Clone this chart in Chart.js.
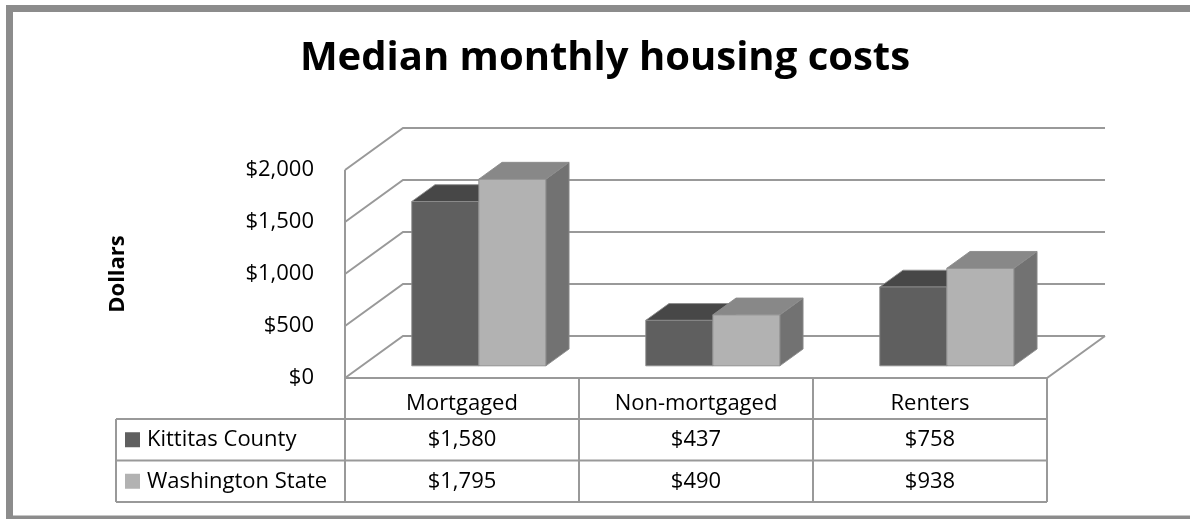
<!DOCTYPE html>
<html>
<head>
<meta charset="utf-8">
<script src="https://cdn.jsdelivr.net/npm/chart.js@4/dist/chart.umd.min.js"></script>
<style>
  html, body { margin: 0; padding: 0; background: #fff; }
  #wrap { width: 1190px; height: 519px; position: relative; }
</style>
</head>
<body>
<div id="wrap"><canvas id="chart"></canvas></div>
<script>
// values
var categories = ["Mortgaged", "Non-mortgaged", "Renters"];
var seriesNames = ["Kittitas County", "Washington State"];
var kittitas = [1580, 437, 758];
var washington = [1795, 490, 938];
var yMax = 2000;
var yStep = 500;
var chartTitle = "Median monthly housing costs";

var FONT = "'Open Sans', 'DejaVu Sans', sans-serif";
var LINE = "#999999";

// 3d look
var depthX = 58, depthY = -42;
var barFront = 0.29, barBack = 0.69;
var faceColors = [
  { front: "#5f5f5f", top: "#474747", side: "#4f4f4f" },
  { front: "#b2b2b2", top: "#888888", side: "#727272" }
];

function money(v) {
  return "$" + Number(v).toLocaleString("en-US");
}

function poly(ctx, pts, fill) {
  ctx.beginPath();
  ctx.moveTo(pts[0][0], pts[0][1]);
  for (var i = 1; i < pts.length; i++) ctx.lineTo(pts[i][0], pts[i][1]);
  ctx.closePath();
  ctx.fillStyle = fill;
  ctx.fill();
  ctx.strokeStyle = "rgba(140,140,140,0.9)";
  ctx.lineWidth = 1;
  ctx.stroke();
}

var frame3d = {
  id: "frame3d",
  beforeDraw: function(chart) {
    var ctx = chart.ctx;
    ctx.save();
    ctx.strokeStyle = "#8c8c8c";
    ctx.lineWidth = 7;
    ctx.strokeRect(9.5, 8.5, 1200, 510.5);
    // title, centred on the whole frame
    ctx.fillStyle = "#000";
    ctx.font = "bold 40px " + FONT;
    ctx.textAlign = "center";
    ctx.textBaseline = "middle";
    ctx.fillText(chartTitle, 605, 59);
    ctx.restore();
  },
  beforeDatasetsDraw: function(chart) {
    var ctx = chart.ctx;
    var a = chart.chartArea;
    var y = chart.scales.y;
    ctx.save();
    ctx.strokeStyle = LINE;
    ctx.lineWidth = 2;
    // back wall + side wall grid
    for (var v = 0; v <= yMax; v += yStep) {
      var py = y.getPixelForValue(v);
      ctx.beginPath();
      ctx.moveTo(a.left, py);
      ctx.lineTo(a.left + depthX, py + depthY);
      ctx.lineTo(a.right + depthX, py + depthY);
      ctx.stroke();
    }
    // left wall front edge
    ctx.beginPath();
    ctx.moveTo(a.left, y.getPixelForValue(yMax));
    ctx.lineTo(a.left, a.bottom);
    ctx.stroke();
    // floor
    ctx.beginPath();
    ctx.moveTo(a.left, a.bottom);
    ctx.lineTo(a.right, a.bottom);
    ctx.lineTo(a.right + depthX, a.bottom + depthY);
    ctx.stroke();

    // bars
    var metas = chart.data.datasets.map(function(d, i) { return chart.getDatasetMeta(i); });
    for (var j = 0; j < categories.length; j++) {
      for (var i = 0; i < metas.length; i++) {
        var bar = metas[i].data[j];
        var c = faceColors[i];
        var fx = depthX * barFront, fy = depthY * barFront;
        var dx = depthX * (barBack - barFront), dy = depthY * (barBack - barFront);
        var x1 = bar.x - bar.width / 2 + fx, x2 = bar.x + bar.width / 2 + fx;
        var yt = bar.y + fy, yb = bar.base + fy;
        poly(ctx, [[x2, yt], [x2 + dx, yt + dy], [x2 + dx, yb + dy], [x2, yb]], c.side);
        poly(ctx, [[x1, yt], [x1 + dx, yt + dy], [x2 + dx, yt + dy], [x2, yt]], c.top);
        poly(ctx, [[x1, yt], [x2, yt], [x2, yb], [x1, yb]], c.front);
      }
    }
    ctx.restore();
    return false;
  },
  afterDraw: function(chart) {
    var ctx = chart.ctx;
    var a = chart.chartArea;
    var x = chart.scales.x;
    var headH = 41, rowH = 41.5;
    var tableLeft = 116;
    var r1 = a.bottom + headH;
    var bottom = r1 + rowH * 2;
    var colW = (a.right - a.left) / categories.length;
    ctx.save();
    ctx.strokeStyle = LINE;
    ctx.lineWidth = 2;
    // horizontal rules
    for (var k = 0; k <= 2; k++) {
      ctx.beginPath();
      ctx.moveTo(tableLeft, r1 + rowH * k);
      ctx.lineTo(a.right, r1 + rowH * k);
      ctx.stroke();
    }
    // verticals
    ctx.beginPath();
    ctx.moveTo(tableLeft, r1);
    ctx.lineTo(tableLeft, bottom);
    ctx.stroke();
    for (var c = 0; c <= categories.length; c++) {
      ctx.beginPath();
      ctx.moveTo(a.left + colW * c, a.bottom);
      ctx.lineTo(a.left + colW * c, bottom);
      ctx.stroke();
    }
    // rows
    var rows = [kittitas, washington];
    ctx.font = "22px " + FONT;
    ctx.textBaseline = "middle";
    for (var r = 0; r < rows.length; r++) {
      var cy = r1 + rowH * r + rowH / 2;
      ctx.fillStyle = faceColors[r].front;
      ctx.fillRect(125, cy - 7.5, 15, 15);
      ctx.fillStyle = "#000";
      ctx.textAlign = "left";
      ctx.fillText(seriesNames[r], 147, cy);
      ctx.textAlign = "center";
      for (var j = 0; j < categories.length; j++) {
        ctx.fillText(money(rows[r][j]), x.getPixelForValue(j), cy);
      }
    }
    ctx.restore();
  }
};

new Chart(document.getElementById("chart"), {
  type: "bar",
  data: {
    labels: categories,
    datasets: [
      { label: seriesNames[0], data: kittitas, backgroundColor: faceColors[0].front },
      { label: seriesNames[1], data: washington, backgroundColor: faceColors[1].front }
    ]
  },
  options: {
    responsive: true,
    maintainAspectRatio: false,
    animation: false,
    layout: { padding: { left: 20, right: 143, top: 170, bottom: 0 } },
    datasets: { bar: { categoryPercentage: 0.573, barPercentage: 1.0 } },
    plugins: {
      legend: { display: false },
      tooltip: { enabled: false },
      title: { display: false }
    },
    scales: {
      x: {
        grid: { display: false, drawTicks: false },
        border: { display: false },
        ticks: { color: "#000", font: { family: FONT, size: 22 }, padding: 13, maxRotation: 0 },
        afterFit: function(s) { s.height = 141; }
      },
      y: {
        min: 0,
        max: yMax,
        grid: { display: false, drawTicks: false },
        border: { display: false },
        ticks: {
          stepSize: yStep,
          color: "#000",
          font: { family: FONT, size: 22 },
          padding: 31,
          callback: function(v) { return money(v); }
        },
        title: {
          display: true,
          text: "Dollars",
          color: "#000",
          font: { family: FONT, size: 22, weight: "bold" },
          padding: { top: 85, bottom: 0 }
        },
        afterFit: function(s) { s.width = 325; }
      }
    }
  },
  plugins: [frame3d]
});
</script>
</body>
</html>
